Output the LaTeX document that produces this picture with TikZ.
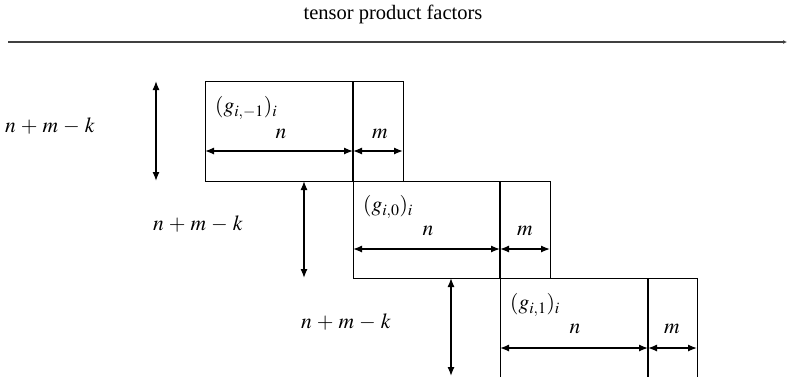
\documentclass[tikz,border=0pt]{standalone}
\usepackage{mathptmx}
\usepackage{fontspec}
\setmainfont{Liberation Serif}
\usetikzlibrary{arrows.meta}
\newcommand{\nmk}{$\medmuskip=4.2mu n+m-k$}
\begin{document}
\begin{tikzpicture}[x=1pt,y=-1pt,
  every node/.style={font=\fontsize{20.5}{24}\selectfont, inner sep=0pt},
  lbl/.style={font=\fontsize{21.5}{25}\selectfont},
  blk/.style={draw, line width=0.8pt, minimum width=#1, minimum height=100pt, anchor=north west},
  divider/.style={line width=1.8pt},
  dim/.style={line width=1.3pt, {Latex[length=9pt,width=7pt]}-{Latex[length=9pt,width=7pt]}},
  axis/.style={line width=1.4pt, draw=black!75, -{Latex[length=4pt,width=4pt]}}
]
\useasboundingbox (0,0) rectangle (787,376);
\clip (0,0) rectangle (787,376);
% title and axis
\node (title) at (393,14) {tensor product factors};
\coordinate (axL) at (8,42);
\coordinate (axR) at (787,42);
\draw[axis] (axL) -- (axR);

% block 1
\node[blk=198pt] (b1) at (205,81) {};
\coordinate (d1t) at (353,81); \coordinate (d1b) at (353,181);
\draw[divider] (d1t) -- (d1b);
\coordinate (a1l) at (205,151); \coordinate (a1m) at (353,151); \coordinate (a1r) at (403,151);
\draw[dim] (a1l) -- (a1m);
\draw[dim] (a1m) -- (a1r);
\node[lbl, anchor=west] (g1) at (215,108) {$(g_{i,-1})_i$};
\node[lbl] (n1) at (281,134) {$n$};
\node[lbl] (m1) at (380,134) {$m$};
\coordinate (v1t) at (156,81); \coordinate (v1b) at (156,181);
\draw[dim] (v1t) -- (v1b);
\node[lbl] (k1) at (50,126) {\nmk};

% block 2
\node[blk=197pt, minimum height=97pt] (b2) at (353,181) {};
\coordinate (d2t) at (500,181); \coordinate (d2b) at (500,278);
\draw[divider] (d2t) -- (d2b);
\coordinate (a2l) at (353,249); \coordinate (a2m) at (500,249); \coordinate (a2r) at (550,249);
\draw[dim] (a2l) -- (a2m);
\draw[dim] (a2m) -- (a2r);
\node[lbl, anchor=west] (g2) at (363,207) {$(g_{i,0})_i$};
\node[lbl] (n2) at (428,231) {$n$};
\node[lbl] (m2) at (525,231) {$m$};
\coordinate (v2t) at (304,181); \coordinate (v2b) at (304,278);
\draw[dim] (v2t) -- (v2b);
\node[lbl] (k2) at (198,224) {\nmk};

% block 3
\node[blk=197pt] (b3) at (500,278) {};
\coordinate (d3t) at (648,278); \coordinate (d3b) at (648,380);
\draw[divider] (d3t) -- (d3b);
\coordinate (a3l) at (500,348); \coordinate (a3m) at (648,348); \coordinate (a3r) at (697,348);
\draw[dim] (a3l) -- (a3m);
\draw[dim] (a3m) -- (a3r);
\node[lbl, anchor=west] (g3) at (510,305) {$(g_{i,1})_i$};
\node[lbl] (n3) at (575,329) {$n$};
\node[lbl] (m3) at (672,329) {$m$};
\coordinate (v3t) at (451,278); \coordinate (v3b) at (451,376);
\draw[dim] (v3t) -- (v3b);
\node[lbl] (k3) at (346,322) {\nmk};
\end{tikzpicture}
\end{document}
